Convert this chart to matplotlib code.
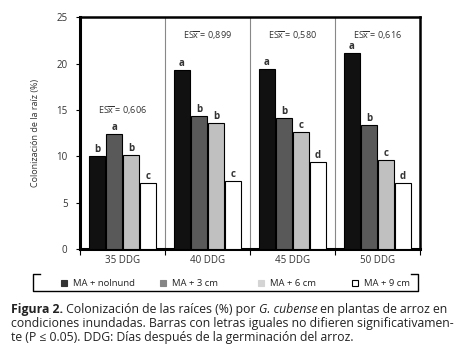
import matplotlib
matplotlib.use("Agg")
import matplotlib.pyplot as plt
from matplotlib.lines import Line2D
from matplotlib.patches import Rectangle
import numpy as np

plt.rcParams["font.family"] = ["Open Sans", "DejaVu Sans"]
plt.rcParams["mathtext.fontset"] = "custom"
plt.rcParams["mathtext.rm"] = "Open Sans"
plt.rcParams["mathtext.it"] = "Open Sans:italic"
plt.rcParams["mathtext.bf"] = "Open Sans:bold"

# ── Data ──
groups = ["35 DDG", "40 DDG", "45 DDG", "50 DDG"]
treatments = ["MA + nolnund", "MA + 3 cm", "MA + 6 cm", "MA + 9 cm"]
nolnund = [10.0, 19.3, 19.4, 21.2]
cm3 = [12.4, 14.4, 14.1, 13.4]
cm6 = [10.1, 13.6, 12.6, 9.6]
cm9 = [7.1, 7.3, 9.4, 7.1]
letters = [
    ["b", "a", "a", "a"],
    ["a", "b", "b", "b"],
    ["b", "b", "c", "c"],
    ["c", "c", "d", "d"],
]
es_values = ["0,606", "0,899", "0,580", "0,616"]
es_y = [14.9, 23.0, 23.0, 23.0]

BAR_COLORS = ["#111111", "#595959", "#c0c0c0", "#ffffff"]
LEG_COLORS = ["#333333", "#858585", "#d4d4d4", "#ffffff"]
TEXT_GRAY = "#333333"

fig = plt.figure(figsize=(4.55, 3.57), dpi=100)
fig.patch.set_facecolor("white")
ax = fig.add_axes([0.176, 0.3025, 0.747, 0.649])

x = np.arange(len(groups))
width = 0.2
series = [nolnund, cm3, cm6, cm9]
for i, vals in enumerate(series):
    pos = x + (i - 1.5) * width
    ax.bar(pos, vals, width=0.185, color=BAR_COLORS[i], edgecolor="black",
           linewidth=0.8, zorder=3)
    for px, v, lt in zip(pos, vals, letters[i]):
        ax.text(px, v + 0.1, lt, ha="center", va="bottom", fontsize=7,
                fontweight="bold", color=TEXT_GRAY)

for xi, es, ey in zip(x, es_values, es_y):
    ax.text(xi, ey, r"ES$\overline{\mathrm{x}}$" + "\u00a0= " + es, ha="center",
            va="center", fontsize=6.5, color=TEXT_GRAY)

# group separators
for b in x[:-1] + 0.5:
    ax.axvline(b, color="#888888", linewidth=0.8, zorder=1)

ax.set_xlim(-0.5, 3.5)
ax.set_ylim(0, 25)
ax.set_yticks([0, 5, 10, 15, 20, 25])
ax.set_xticks(x)
ax.set_xticklabels(groups, fontsize=7, color=TEXT_GRAY)
ax.set_xticks(np.arange(-0.5, 4.0, 1.0), minor=True)
ax.tick_params(axis="x", which="major", length=0, pad=4)
ax.tick_params(axis="x", which="minor", length=4, width=0.8, direction="out")
ax.tick_params(axis="y", length=3, width=0.8, labelsize=7, labelcolor=TEXT_GRAY, pad=6)
ax.set_ylabel("Colonización de la raíz (%)", fontsize=6.5, color=TEXT_GRAY, labelpad=12)

for side in ["left", "bottom"]:
    ax.spines[side].set_linewidth(2.2)
for side in ["top", "right"]:
    ax.spines[side].set_linewidth(1.8)

# legend entries, evenly spaced like the original
leg_x = [0.134, 0.352, 0.567, 0.774]
leg_y = 0.207
sq_w, sq_h = 0.0135, 0.017
for lx, c, name in zip(leg_x, LEG_COLORS, treatments):
    fig.patches.append(Rectangle((lx, leg_y - sq_h / 2), sq_w, sq_h,
                                 transform=fig.transFigure, facecolor=c,
                                 edgecolor="black" if c == "#ffffff" else c,
                                 linewidth=0.8))
    fig.text(lx + sq_w + 0.012, leg_y, name, fontsize=6.8, color="#222222",
             ha="left", va="center")

# bracket-style legend frame
lx0, lx1, ly0, ly1 = 0.073, 0.919, 0.185, 0.232
fig.lines.append(Line2D([lx0 + 0.016, lx0, lx0, lx1, lx1, lx1 - 0.016],
                        [ly1, ly1, ly0, ly0, ly1, ly1],
                        transform=fig.transFigure, color="black", linewidth=1.0))

# caption (line 1 mixes bold / italic pieces)
cap_size = 8.8
cap_color = "#222222"
cap_x = 0.024
cap_y = [0.133, 0.0945, 0.056]
renderer = fig.canvas.get_renderer()
pieces = [
    ("Figura 2.", "bold", "normal"),
    (" Colonización de las raíces (%) por ", "normal", "normal"),
    ("G. cubense", "normal", "italic"),
    (" en plantas de arroz en", "normal", "normal"),
]
cx = cap_x
for txt, wt, st in pieces:
    t = fig.text(cx, cap_y[0], txt, fontsize=cap_size, color=cap_color,
                 fontweight=wt, fontstyle=st, ha="left", va="center")
    bb = t.get_window_extent(renderer=renderer)
    cx += bb.width / fig.bbox.width

fig.text(cap_x, cap_y[1],
         "condiciones inundadas. Barras con letras iguales no difieren significativamen-",
         fontsize=cap_size, color=cap_color, ha="left", va="center")
fig.text(cap_x, cap_y[2],
         "te (P ≤ 0.05). DDG: Días después de la germinación del arroz.",
         fontsize=cap_size, color=cap_color, ha="left", va="center")

fig.savefig("out.png", dpi=100, facecolor="white")
